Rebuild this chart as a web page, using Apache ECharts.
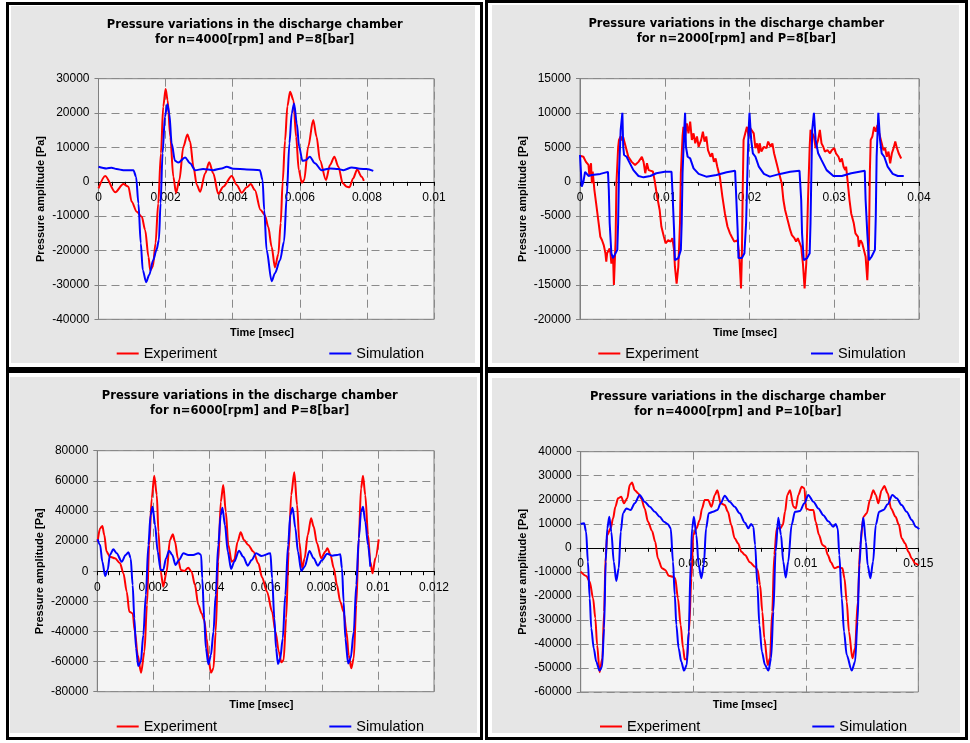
<!DOCTYPE html>
<html><head><meta charset="utf-8">
<script src="https://cdn.jsdelivr.net/npm/echarts@6/dist/echarts.min.js"></script>
<style>
html,body{margin:0;padding:0;background:#fff;width:970px;height:743px;overflow:hidden;position:relative}
.frame{position:absolute;border:3px solid #000;box-sizing:border-box}
.chart{position:absolute;background:#e6e6e6}
</style></head><body>
<div class="frame" style="left:6px;top:2px;width:477px;height:368px"></div>
<div class="frame" style="left:485px;top:0px;width:483px;height:370px"></div>
<div class="frame" style="left:6px;top:370px;width:477px;height:370px"></div>
<div class="frame" style="left:485px;top:370px;width:483px;height:370px"></div>
<div id="c1" class="chart" style="left:11px;top:6px;width:464px;height:357px"></div>
<div id="c2" class="chart" style="left:492px;top:5px;width:467px;height:358px"></div>
<div id="c3" class="chart" style="left:10px;top:377px;width:467px;height:356px"></div>
<div id="c4" class="chart" style="left:492px;top:378px;width:468px;height:355px"></div>
<script>
// ---------- DATA ----------
const seriesNames = ['Experiment', 'Simulation'];
const titles = [
  'Pressure variations in the discharge chamber\nfor n=4000[rpm] and P=8[bar]',
  'Pressure variations in the discharge chamber\nfor n=2000[rpm] and P=8[bar]',
  'Pressure variations in the discharge chamber\nfor n=6000[rpm] and P=8[bar]',
  'Pressure variations in the discharge chamber\nfor n=4000[rpm] and P=10[bar]'
];
const xAxisName = 'Time [msec]';
const yAxisName = 'Pressure amplitude [Pa]';
// axis ranges: [xmin, xmax, xinterval, ymin, ymax, yinterval]
const axes1 = [0, 0.01, 0.002, -40000, 30000, 10000];
const axes2 = [0, 0.04, 0.01, -20000, 15000, 5000];
const axes3 = [0, 0.012, 0.002, -80000, 80000, 20000];
const axes4 = [0, 0.015, 0.005, -60000, 40000, 10000];

const exp1 = [[0,-1900],[0.0002,1700],[0.0005,-3050],[0.00074,-650],[0.00089,-1400],[0.00099,-5800],[0.00114,-8700],[0.00129,-10150],[0.00139,-14000],[0.00149,-21800],[0.00154,-25700],[0.00162,-24700],[0.0017,-17900],[0.00178,-6300],[0.00186,8300],[0.00193,21900],[0.002,27000],[0.00206,23800],[0.00214,13100],[0.00223,1500],[0.00231,-3200],[0.00241,500],[0.00253,10200],[0.00265,13800],[0.00273,11700],[0.00283,4400],[0.00293,-900],[0.00303,-2900],[0.00318,2500],[0.0033,5700],[0.00342,2500],[0.00357,-3500],[0.00372,-1400],[0.00397,1700],[0.00412,-900],[0.00427,-3200],[0.00442,-1600],[0.00454,-650],[0.00466,-2400],[0.00483,-8200],[0.00496,-9700],[0.00506,-13100],[0.00516,-18900],[0.00526,-24900],[0.00536,-21000],[0.00543,-12000],[0.00549,0],[0.00556,12000],[0.00563,22000],[0.00571,26200],[0.00581,23800],[0.00589,13100],[0.00597,3400],[0.00606,-250],[0.00613,500],[0.00625,10200],[0.0064,18000],[0.0065,13100],[0.0066,6300],[0.00678,500],[0.0069,4900],[0.00703,7300],[0.00715,4400],[0.00728,-450],[0.0074,-1400],[0.00748,-1600],[0.00759,1000],[0.00771,3600],[0.00784,1500],[0.00791,300]];
const sim1 = [[0,4400],[0.00024,3900],[0.00039,4100],[0.00054,3700],[0.00074,3400],[0.00104,3400],[0.00112,1500],[0.00119,-6300],[0.00126,-17900],[0.00132,-25700],[0.00142,-29200],[0.00151,-27100],[0.00163,-22800],[0.00173,-19800],[0.0018,-16900],[0.00185,-6300],[0.00191,8300],[0.00198,18900],[0.00205,22600],[0.00211,19900],[0.00218,11200],[0.00228,6100],[0.00238,5600],[0.00258,7100],[0.00273,5400],[0.00288,3400],[0.00312,3700],[0.00342,3400],[0.00367,3900],[0.00382,4400],[0.00402,3800],[0.00442,3600],[0.00481,3400],[0.00489,500],[0.00494,-8200],[0.00501,-19800],[0.00516,-28900],[0.00526,-26600],[0.00541,-22800],[0.00553,-17400],[0.00561,-4300],[0.00569,11200],[0.00576,19900],[0.00583,22800],[0.00591,17000],[0.00598,10200],[0.00608,6100],[0.00618,6300],[0.0063,7300],[0.00645,5400],[0.00665,3400],[0.0069,3900],[0.00715,3700],[0.0073,3400],[0.00755,4200],[0.00779,3800],[0.00799,3700],[0.00819,3200]];

const exp2 = [[0.0001,3750],[0.0004,3650],[0.0007,2900],[0.001,2450],[0.0011,1000],[0.0013,2700],[0.0014,-200],[0.0015,1500],[0.0017,-1200],[0.0019,-3100],[0.0022,-6000],[0.0024,-8000],[0.0026,-8500],[0.0028,-9200],[0.003,-10400],[0.0031,-11600],[0.0032,-10400],[0.0035,-9700],[0.0036,-10400],[0.0037,-11900],[0.0039,-10900],[0.004,-15000],[0.0042,-8500],[0.0043,-200],[0.0045,5000],[0.0046,6100],[0.0048,6600],[0.005,6000],[0.0051,6500],[0.0053,6300],[0.0055,4600],[0.0057,3650],[0.0061,2900],[0.0065,2450],[0.0069,2900],[0.0073,3650],[0.0075,2900],[0.0077,1250],[0.0079,2700],[0.0081,1700],[0.0083,1950],[0.0086,1500],[0.0088,250],[0.0091,-2150],[0.0094,-4100],[0.0096,-6500],[0.0099,-8000],[0.0101,-8950],[0.0104,-8500],[0.0107,-8700],[0.0109,-8200],[0.0111,-9900],[0.0112,-12350],[0.0114,-14800],[0.0116,-12350],[0.0118,-6000],[0.0119,1250],[0.0121,6600],[0.0122,8000],[0.0124,6600],[0.0126,8500],[0.0128,7050],[0.013,8750],[0.0132,6100],[0.0134,7050],[0.0136,5600],[0.0138,6600],[0.014,5100],[0.0143,6100],[0.0145,7300],[0.0147,5850],[0.0149,6600],[0.0151,4600],[0.0154,3650],[0.0156,4150],[0.0158,2900],[0.016,3400],[0.0162,2200],[0.0165,750],[0.0168,-2150],[0.0171,-4600],[0.0174,-6500],[0.0177,-7500],[0.0179,-8000],[0.0182,-8700],[0.0184,-8950],[0.0186,-8500],[0.0188,-10900],[0.019,-15500],[0.0191,-10900],[0.0192,-1200],[0.0193,6100],[0.0195,7050],[0.0197,8000],[0.0199,6600],[0.0201,7800],[0.0203,7550],[0.0205,7050],[0.0207,4900],[0.0209,5600],[0.0211,4150],[0.0212,5600],[0.0214,4400],[0.0217,5100],[0.022,4900],[0.0222,5850],[0.0225,5100],[0.0227,5600],[0.0229,4150],[0.0232,2700],[0.0234,1700],[0.0236,1950],[0.0238,-200],[0.024,-2650],[0.0242,-4100],[0.0245,-5550],[0.0248,-7000],[0.025,-7750],[0.0253,-8200],[0.0255,-8700],[0.0257,-8200],[0.0259,-8000],[0.0261,-9450],[0.0263,-11850],[0.0265,-15500],[0.0267,-11850],[0.0269,-2650],[0.0271,5100],[0.0272,7550],[0.0274,7050],[0.0276,6600],[0.0278,4900],[0.0281,6100],[0.0283,7550],[0.0285,5600],[0.0287,5100],[0.0289,4400],[0.0292,4600],[0.0295,4150],[0.0297,4600],[0.03,4900],[0.0302,4150],[0.0305,3650],[0.0307,2900],[0.0309,3400],[0.0311,2200],[0.0313,1700],[0.0314,2200],[0.0316,-200],[0.0318,-2650],[0.032,-4600],[0.0323,-6000],[0.0325,-7500],[0.0328,-8000],[0.0329,-9450],[0.0331,-8500],[0.0333,-8950],[0.0335,-8700],[0.0337,-10900],[0.0339,-14300],[0.0341,-8500],[0.0342,1250],[0.0343,6100],[0.0345,6600],[0.0347,8000],[0.0349,7300],[0.0351,8250],[0.0353,7050],[0.0354,6600],[0.0356,5600],[0.0358,4600],[0.036,4900],[0.0362,3650],[0.0364,4400],[0.0366,2700],[0.0368,4150],[0.037,4900],[0.0372,5850],[0.0374,4900],[0.0376,4150],[0.0377,4400],[0.0379,3400]];
const sim2 = [[0,3900],[0.0001,1700],[0.0002,-700],[0.0004,0],[0.0006,1450],[0.0008,1250],[0.001,850],[0.0014,1000],[0.0024,1150],[0.0033,1450],[0.0034,-1200],[0.0035,-6000],[0.0037,-10400],[0.0039,-11100],[0.0041,-10900],[0.0044,-9900],[0.0045,-6000],[0.0046,1250],[0.0048,7550],[0.005,10050],[0.0051,5100],[0.0052,3900],[0.0055,3650],[0.0058,2900],[0.0063,1700],[0.0069,850],[0.0075,650],[0.0083,850],[0.009,1250],[0.01,1450],[0.0108,1450],[0.0109,-1200],[0.0111,-7000],[0.0112,-11400],[0.0116,-11100],[0.0119,-9900],[0.012,-6000],[0.0121,1250],[0.0123,7550],[0.0124,10050],[0.0125,5100],[0.0127,3650],[0.013,3400],[0.0134,1950],[0.014,1150],[0.0149,750],[0.0161,1000],[0.0173,1400],[0.0183,1600],[0.0184,-1200],[0.0186,-7000],[0.0187,-11100],[0.0191,-11100],[0.0194,-10400],[0.0196,-6000],[0.0198,3650],[0.0199,7550],[0.02,10050],[0.0202,6100],[0.0204,4150],[0.0207,3650],[0.0211,2200],[0.0217,1150],[0.0224,750],[0.0236,1150],[0.0248,1450],[0.0259,1600],[0.0261,-2650],[0.0262,-7500],[0.0264,-11400],[0.0268,-11100],[0.0271,-10400],[0.0272,-6000],[0.0273,1250],[0.0274,7550],[0.0276,10050],[0.0278,6100],[0.0281,4150],[0.0285,3150],[0.0291,1700],[0.0299,850],[0.0309,850],[0.032,1250],[0.0336,1600],[0.0337,-2650],[0.0339,-7500],[0.0341,-11400],[0.0344,-10900],[0.0348,-9900],[0.0349,-5100],[0.035,3650],[0.0352,10050],[0.0354,6100],[0.0356,4150],[0.0359,3650],[0.0363,2200],[0.0369,1150],[0.0375,850],[0.0382,850]];

const exp3 = [[0.00001,19600],[0.0001,28500],[0.00018,30000],[0.00025,24000],[0.00033,13000],[0.00045,9600],[0.00063,8600],[0.00081,5200],[0.00093,-1400],[0.00105,-13600],[0.00114,-26900],[0.00126,-28000],[0.00134,-40200],[0.00144,-55600],[0.00156,-67400],[0.00168,-53400],[0.00177,-22400],[0.00185,17400],[0.00194,48400],[0.00203,63400],[0.00212,50600],[0.00218,26200],[0.00226,-300],[0.00235,-10300],[0.00247,-300],[0.00259,20700],[0.00269,24500],[0.00277,19600],[0.00287,8600],[0.00298,800],[0.0031,100],[0.00324,2300],[0.00336,-300],[0.00348,-9200],[0.0036,-22400],[0.00372,-28000],[0.00381,-32400],[0.0039,-44600],[0.00396,-57800],[0.00405,-67400],[0.00414,-64500],[0.00422,-40200],[0.00431,6300],[0.0044,46100],[0.00449,57200],[0.00458,39500],[0.00467,17400],[0.00479,6300],[0.00488,7400],[0.005,19600],[0.00511,25800],[0.00523,20700],[0.00538,17400],[0.00556,13000],[0.00574,5200],[0.00587,-4000],[0.00605,-13600],[0.00623,-26900],[0.00635,-40200],[0.00647,-53400],[0.00656,-60500],[0.00664,-59000],[0.00673,-31300],[0.00682,13000],[0.00691,50600],[0.00702,65700],[0.00712,44000],[0.0072,19600],[0.0073,1900],[0.00739,8600],[0.0075,24000],[0.00762,35100],[0.00771,29600],[0.00783,18500],[0.00798,8600],[0.00813,13000],[0.0082,15200],[0.00831,10800],[0.00843,1900],[0.00854,-9200],[0.00866,-20300],[0.00878,-26900],[0.00888,-40200],[0.00896,-55600],[0.00905,-64500],[0.00914,-57800],[0.00923,-22400],[0.00932,21800],[0.0094,55000],[0.00947,63400],[0.00955,50600],[0.00965,24000],[0.00973,6300],[0.00981,-1400],[0.00991,8600],[0.01003,21200]];
const sim3 = [[0.00001,21200],[0.0001,17400],[0.00018,6300],[0.00028,-3200],[0.00037,800],[0.00045,10800],[0.00057,14500],[0.00069,11900],[0.00087,6300],[0.00101,10800],[0.00111,12500],[0.00119,8600],[0.00126,-9200],[0.00132,-31300],[0.00138,-51200],[0.00146,-63000],[0.00155,-60100],[0.00164,-42400],[0.00173,-15800],[0.00182,17400],[0.0019,37300],[0.00197,42800],[0.00206,30700],[0.00215,13000],[0.00226,800],[0.00235,800],[0.00245,8600],[0.00256,13600],[0.00267,10800],[0.00279,4100],[0.00291,7400],[0.00307,11900],[0.00324,10800],[0.00342,10800],[0.0036,11900],[0.0037,10800],[0.00374,-4700],[0.00381,-31300],[0.00387,-51200],[0.00396,-61800],[0.00405,-55600],[0.00414,-40200],[0.00422,-15800],[0.00431,17400],[0.0044,37300],[0.00446,42200],[0.00455,30700],[0.00465,13000],[0.00477,1500],[0.00488,6300],[0.00505,13600],[0.0052,9600],[0.00536,3700],[0.0055,7400],[0.00566,11900],[0.00585,10100],[0.00617,11900],[0.00623,-4700],[0.00631,-31300],[0.00637,-51200],[0.00644,-61600],[0.00652,-57800],[0.00661,-44600],[0.0067,-15800],[0.0068,17400],[0.00688,37300],[0.00696,42200],[0.00706,28500],[0.00715,13000],[0.00727,100],[0.00739,3000],[0.00756,13400],[0.00771,8600],[0.00786,3700],[0.00801,7400],[0.00819,11600],[0.00837,10300],[0.00855,10800],[0.00866,11200],[0.00872,1900],[0.00878,-20300],[0.00884,-44600],[0.00894,-61200],[0.00903,-57800],[0.00914,-40200],[0.00923,-9200],[0.00932,21800],[0.0094,39500],[0.00947,42800],[0.00955,32900],[0.00965,17400],[0.00973,3000]];

const exp4 = [[0,-9900],[0.00025,-11700],[0.0004,-14100],[0.00055,-21000],[0.00065,-29300],[0.00073,-40400],[0.00084,-51800],[0.00096,-46000],[0.00104,-26600],[0.00111,-3000],[0.00118,5300],[0.00133,8100],[0.00144,12300],[0.00154,17100],[0.00166,20600],[0.0018,21300],[0.00192,18500],[0.00207,20600],[0.00218,26100],[0.00228,27200],[0.0024,24000],[0.00255,22700],[0.00269,20600],[0.00284,16400],[0.00299,10900],[0.00317,7000],[0.00331,2500],[0.00343,-4400],[0.00361,-8500],[0.00376,-9200],[0.00391,-11600],[0.0041,-12000],[0.0042,-12700],[0.00432,-21000],[0.00444,-32100],[0.00455,-41800],[0.00462,-46400],[0.00472,-46400],[0.00481,-34900],[0.00492,-12700],[0.005,5300],[0.00514,8100],[0.00529,11600],[0.00539,16400],[0.00551,19900],[0.00566,19900],[0.00581,17100],[0.00596,22000],[0.00607,24000],[0.00622,18500],[0.0064,17800],[0.00654,15000],[0.00669,9500],[0.00684,4000],[0.00699,1900],[0.00714,-1600],[0.0073,-3000],[0.00752,-6000],[0.00775,-7900],[0.00786,-9200],[0.00797,-15500],[0.00807,-26600],[0.00816,-37600],[0.00831,-48800],[0.00841,-46000],[0.00851,-26600],[0.0086,-3000],[0.00871,8100],[0.00886,8100],[0.00898,9500],[0.00908,15000],[0.00918,22000],[0.0093,24000],[0.00945,17100],[0.00956,16400],[0.00967,22000],[0.00982,25400],[0.00994,24800],[0.01001,16400],[0.01019,15700],[0.01034,15700],[0.01044,10900],[0.01059,5300],[0.01074,1200],[0.01086,500],[0.01098,-3000],[0.01112,-6000],[0.01127,-8500],[0.01145,-7900],[0.01163,-8500],[0.01172,-12700],[0.01182,-22400],[0.01192,-34900],[0.01207,-46000],[0.01219,-41800],[0.01231,-22400],[0.01242,1200],[0.01256,12900],[0.01271,14400],[0.01285,19900],[0.013,24000],[0.01311,22000],[0.01322,18500],[0.01337,24000],[0.01349,25700],[0.01364,22700],[0.01379,16400],[0.01399,12900],[0.01414,9500],[0.01426,4000],[0.01441,1900],[0.01456,-1600],[0.01471,-4400],[0.01486,-6500],[0.015,-7200]];
const sim4 = [[0,9900],[0.00015,10200],[0.00024,6700],[0.00032,-5800],[0.0004,-21000],[0.00047,-33500],[0.00058,-41800],[0.00069,-47400],[0.00084,-51100],[0.00095,-49500],[0.00104,-33500],[0.00111,-5800],[0.00118,8100],[0.00127,12900],[0.00136,6700],[0.00147,-5800],[0.00158,-13800],[0.00169,-8500],[0.00178,6700],[0.00188,14400],[0.00203,16400],[0.00222,15700],[0.0024,18500],[0.00262,22000],[0.00284,19200],[0.00307,17100],[0.00329,15000],[0.00351,12900],[0.0037,10900],[0.00388,9800],[0.004,8100],[0.0041,-5800],[0.00418,-19600],[0.00425,-32100],[0.00435,-41800],[0.00447,-47400],[0.00459,-51100],[0.00471,-48800],[0.0048,-34900],[0.00489,-5800],[0.00495,8100],[0.00503,12900],[0.00514,5300],[0.00524,-7200],[0.00536,-12700],[0.00547,-7200],[0.00557,8100],[0.00569,14400],[0.00588,15000],[0.00607,15700],[0.00622,18500],[0.0064,21700],[0.00662,19200],[0.00684,17100],[0.00706,14400],[0.0073,10400],[0.00745,8100],[0.00757,9900],[0.00767,8800],[0.00775,1200],[0.00785,-15500],[0.00794,-32100],[0.00805,-43200],[0.00819,-48800],[0.00834,-51100],[0.00846,-46000],[0.00856,-26600],[0.00866,-1600],[0.00878,12500],[0.0089,5300],[0.009,-5800],[0.00911,-12400],[0.00922,-5800],[0.00937,9500],[0.00952,15000],[0.00974,15300],[0.00994,18500],[0.01011,22000],[0.01034,19200],[0.01056,16400],[0.01078,13600],[0.011,11100],[0.01122,8800],[0.01133,9900],[0.01142,8100],[0.01149,-3000],[0.0116,-21000],[0.0117,-34900],[0.01182,-44600],[0.01204,-51100],[0.01219,-47400],[0.0123,-30700],[0.01238,-7200],[0.01249,8100],[0.01256,12500],[0.01267,2500],[0.01275,-7200],[0.01287,-12700],[0.01299,-5800],[0.01311,9500],[0.01326,15000],[0.01345,15700],[0.01364,18100],[0.01385,22000],[0.01404,20600],[0.01426,17800],[0.01448,15000],[0.01471,11600],[0.01489,8800],[0.01504,7800]];

// ---------- LAYOUT / STYLE ----------
const layouts = [
  {el:'c1', grid:[87.5,72.7,335.5,240.6], titleX:243.7, titleTop:11.5, xnX:251, xnY:326.7, lg:[105.7,318.3], lgY:347, smooth:0.3},
  {el:'c2', grid:[88,73.7,339,240.6], titleX:244.3, titleTop:12, xnX:253, xnY:327.7, lg:[106.3,319], lgY:348, smooth:false},
  {el:'c3', grid:[87.3,73.7,336.7,241], titleX:239.7, titleTop:11.5, xnX:251.3, xnY:328, lg:[106.7,319.3], lgY:349, smooth:0.3},
  {el:'c4', grid:[88.7,73.7,337.6,240.3], titleX:245.8, titleTop:11.5, xnX:252.8, xnY:327, lg:[108,320.3], lgY:348, smooth:0.3}
];
const panels = [
  {axes:axes1, exp:exp1, sim:sim1},
  {axes:axes2, exp:exp2, sim:sim2},
  {axes:axes3, exp:exp3, sim:sim3},
  {axes:axes4, exp:exp4, sim:sim4}
];
const FONT = 'Liberation Sans, Arial, sans-serif';
const gridDash = {color:'#8a8a8a', width:1, type:[8,5]};

function legendFor(name, color, left, cy) {
  return {data:[{name:name, icon:'rect', itemStyle:{color:color}}], left:left, top:cy-7, padding:0,
    itemWidth:22, itemHeight:2,
    textStyle:{fontFamily:FONT, fontSize:14.5, color:'#000'}};
}

function buildOption(p, L, title) {
  const a = p.axes;
  // move the x axis (line, ticks, labels) up from the grid bottom to value 0
  const zeroOffset = -L.grid[3] * (0 - a[3]) / (a[4] - a[3]);
  return {
    animation:false,
    backgroundColor:'#e6e6e6',
    textStyle:{fontFamily:FONT},
    title:[
      {text:title, left:L.titleX, top:L.titleTop, textAlign:'center', padding:0,
       textStyle:{fontFamily:'DejaVu Sans, sans-serif', fontWeight:'bold', fontSize:11.5, lineHeight:15, color:'#000'}},
      {text:xAxisName, left:L.xnX, top:L.xnY-6, textAlign:'center', padding:0,
       textStyle:{fontFamily:FONT, fontWeight:'bold', fontSize:11, lineHeight:12, color:'#000'}}
    ],
    legend:[legendFor(seriesNames[0], '#ff0000', L.lg[0], L.lgY), legendFor(seriesNames[1], '#0000ff', L.lg[1], L.lgY)],
    grid:{left:L.grid[0], top:L.grid[1], width:L.grid[2], height:L.grid[3], show:true,
      backgroundColor:'#f4f4f4', borderColor:'#808080', borderWidth:1, containLabel:false},
    xAxis:{type:'value', min:a[0], max:a[1], interval:a[2], position:'bottom', offset:zeroOffset,
      axisLine:{show:true, onZero:false, lineStyle:{color:'#000', width:1}},
      axisTick:{show:true, length:4, lineStyle:{color:'#000'}},
      minorTick:{show:true, splitNumber:5, length:4, lineStyle:{color:'#000'}},
      splitLine:{show:true, lineStyle:gridDash},
      axisLabel:{fontFamily:FONT, fontSize:12, color:'#000', margin:10, showMinLabel:true, showMaxLabel:true,
        formatter:function(v){return String(Math.round(v*1e6)/1e6);}}
    },
    yAxis:{type:'value', min:a[3], max:a[4], interval:a[5],
      axisLine:{show:true, onZero:false, lineStyle:{color:'#808080', width:1}},
      axisTick:{show:true, length:4, lineStyle:{color:'#808080'}},
      splitLine:{show:true, lineStyle:gridDash},
      axisLabel:{fontFamily:FONT, fontSize:12, color:'#000', margin:9, formatter:function(v){return String(v);}},
      name:yAxisName, nameLocation:'middle', nameGap:52, nameMoveOverlap:false,
      nameTextStyle:{fontFamily:FONT, fontWeight:'bold', fontSize:11, color:'#000'}
    },
    series:[
      {type:'line', name:seriesNames[0], data:p.exp, symbol:'none', showSymbol:false, smooth:L.smooth, smoothMonotone:'x',
       lineStyle:{color:'#ff0000', width:2}, itemStyle:{color:'#ff0000'}},
      {type:'line', name:seriesNames[1], data:p.sim, symbol:'none', showSymbol:false, smooth:L.smooth, smoothMonotone:'x',
       lineStyle:{color:'#0000ff', width:2}, itemStyle:{color:'#0000ff'}}
    ]
  };
}

panels.forEach(function(p, i){
  const L = layouts[i];
  const chart = echarts.init(document.getElementById(L.el), null, {renderer:'canvas'});
  chart.setOption(buildOption(p, L, titles[i]));
});
</script>
</body></html>
